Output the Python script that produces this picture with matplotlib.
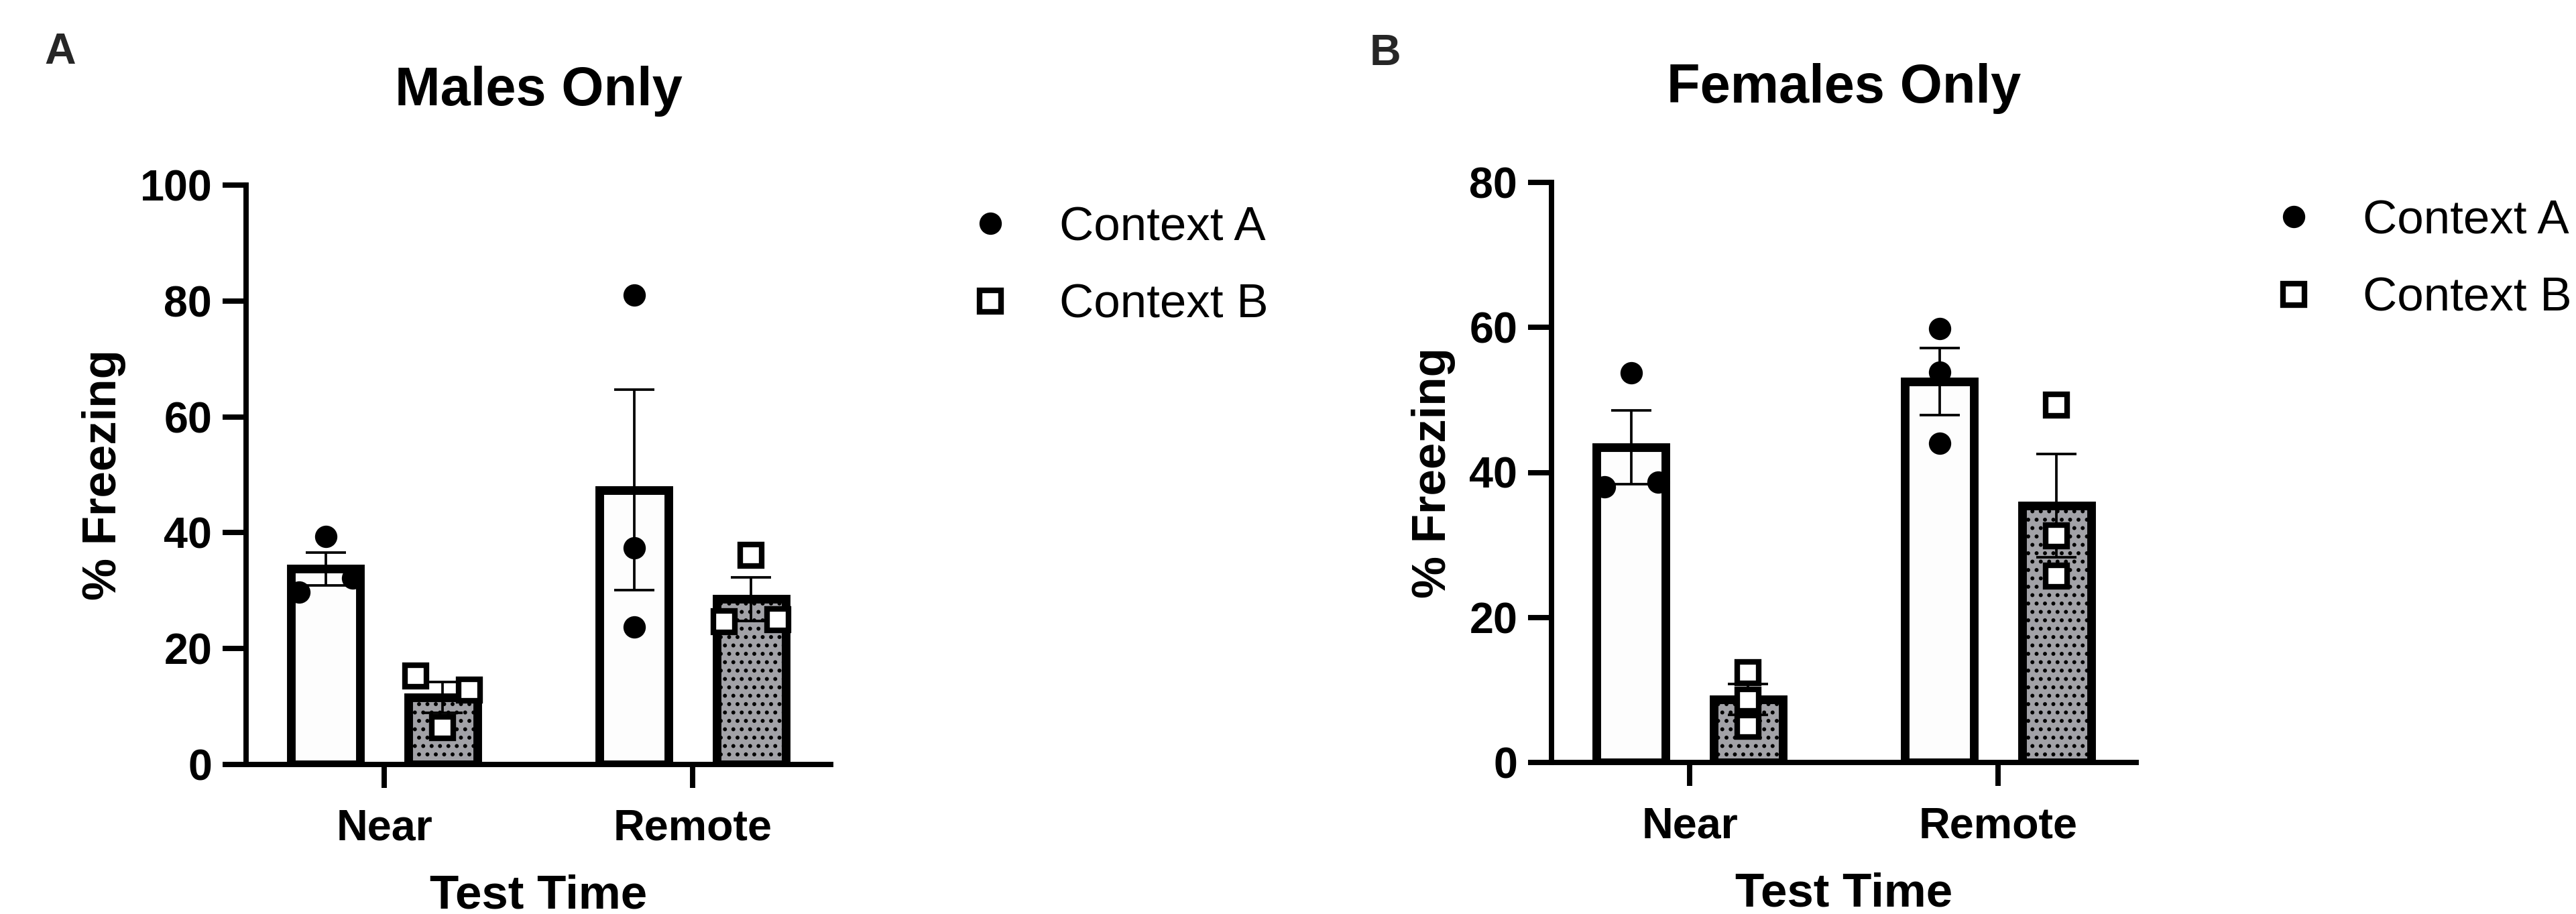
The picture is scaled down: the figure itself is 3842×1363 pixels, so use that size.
import numpy as np
import matplotlib.pyplot as plt
from matplotlib.lines import Line2D

plt.rcParams['font.family'] = ['Liberation Sans', 'DejaVu Sans']
plt.rcParams['hatch.linewidth'] = 0.8

################### data #######################
TIMES = ['Near', 'Remote']
CONTEXTS = ['Context A', 'Context B']

# % freezing of individual animals, one list per test time (Near, Remote)
MALES_CTX_A = [[29.8, 39.3, 32.2], [81.0, 37.4, 23.7]]
MALES_CTX_B = [[15.3, 6.4, 12.9], [24.6, 36.1, 25.0]]
FEMALES_CTX_A = [[38.0, 53.7, 38.7], [59.8, 53.8, 44.0]]
FEMALES_CTX_B = [[12.4, 8.6, 5.0], [49.3, 31.3, 25.7]]

################### style #######################
FIG_W, FIG_H, DPI = 3842, 1363, 300
BAR_OFFSET = 0.19
BAR_W = 0.225
SPREAD = 0.087
FILL_A = '#fdfdfd'
FILL_B = '#a2a2a7'

# point scatter (left/centre/right) so points don't overlap, like Prism
SPREAD_M_A = [[-1, 0, 1], [0, 0, 0]]
SPREAD_M_B = [[-1, 0, 1], [-1, 0, 1]]
SPREAD_F_A = [[-1, 0, 1], [0, 0, 0]]
SPREAD_F_B = [[0, 0, 0], [0, 0, 0]]


def px(x, y):
    # figure pixel -> figure fraction
    return x / FIG_W, 1 - y / FIG_H


def draw_panel(ax, ctx_a, ctx_b, spr_a, spr_b, ymax, ystep, title, leg_anchor):
    x = np.arange(len(TIMES))
    groups = [
        (ctx_a, spr_a, -BAR_OFFSET, FILL_A, None,
         dict(marker='o', ms=8, mfc='black', mec='black', mew=0)),
        (ctx_b, spr_b, BAR_OFFSET, FILL_B, '....',
         dict(marker='s', ms=7.8, mfc='white', mec='black', mew=2.0)),
    ]
    for vals, spr, off, fc, hatch, mstyle in groups:
        vals = np.array(vals)
        means = vals.mean(axis=1)
        sems = vals.std(axis=1, ddof=1) / np.sqrt(vals.shape[1])
        ax.bar(x + off, means, width=BAR_W, color=fc, edgecolor='black',
               linewidth=3.1, hatch=hatch, zorder=2)
        ax.errorbar(x + off, means, yerr=sems, fmt='none', ecolor='black',
                    elinewidth=0.9, capsize=7.3, capthick=0.9, zorder=3)
        for i in range(len(TIMES)):
            xs = x[i] + off + np.array(spr[i]) * SPREAD
            ax.plot(xs, vals[i], ls='none', zorder=4, clip_on=False, **mstyle)

    ax.set_xlim(-0.448, 1.448)
    ax.set_ylim(0, ymax)
    ax.set_yticks(np.arange(0, ymax + 1, ystep))
    ax.set_xticks(x)
    ax.set_xticklabels(TIMES)

    for s in ['top', 'right']:
        ax.spines[s].set_visible(False)
    for s in ['left', 'bottom']:
        ax.spines[s].set_linewidth(1.9)

    ax.tick_params(axis='both', direction='out', length=8.4, width=1.9, labelsize=15.5)
    ax.tick_params(axis='y', pad=3.8)
    ax.tick_params(axis='x', pad=7.4)
    for lab in ax.get_xticklabels() + ax.get_yticklabels():
        lab.set_fontweight('bold')

    ax.set_ylabel('% Freezing', fontsize=17, fontweight='bold', labelpad=4.8)
    ax.set_xlabel('Test Time', fontsize=17, fontweight='bold', labelpad=9)
    ax.set_title(title, fontsize=19.5, fontweight='bold', pad=28.5)

    handles = [Line2D([], [], ls='none', **groups[0][5]),
               Line2D([], [], ls='none', **groups[1][5])]
    ax.legend(handles, CONTEXTS, loc='center left', bbox_to_anchor=leg_anchor,
              bbox_transform=ax.figure.transFigure, frameon=False, fontsize=17,
              handlelength=0.8, handletextpad=1.05, labelspacing=0.7,
              borderpad=0, borderaxespad=0)


fig = plt.figure(figsize=(FIG_W / DPI, FIG_H / DPI), dpi=DPI)

ax_a = fig.add_axes([367 / FIG_W, 1 - 1140 / FIG_H, 872 / FIG_W, 864 / FIG_H])
ax_b = fig.add_axes([2314 / FIG_W, 1 - 1137 / FIG_H, 872 / FIG_W, 865 / FIG_H])

draw_panel(ax_a, MALES_CTX_A, MALES_CTX_B, SPREAD_M_A, SPREAD_M_B, 100, 20,
           'Males Only', px(1449, 398))
draw_panel(ax_b, FEMALES_CTX_A, FEMALES_CTX_B, SPREAD_F_A, SPREAD_F_B, 80, 20,
           'Females Only', px(3393, 388))

fig.text(*px(66, 95), 'A', fontsize=15.5, fontweight='bold', color='#262626')
fig.text(*px(2043, 97), 'B', fontsize=15.5, fontweight='bold', color='#262626')

fig.savefig('out.png', dpi=DPI, facecolor='white')
